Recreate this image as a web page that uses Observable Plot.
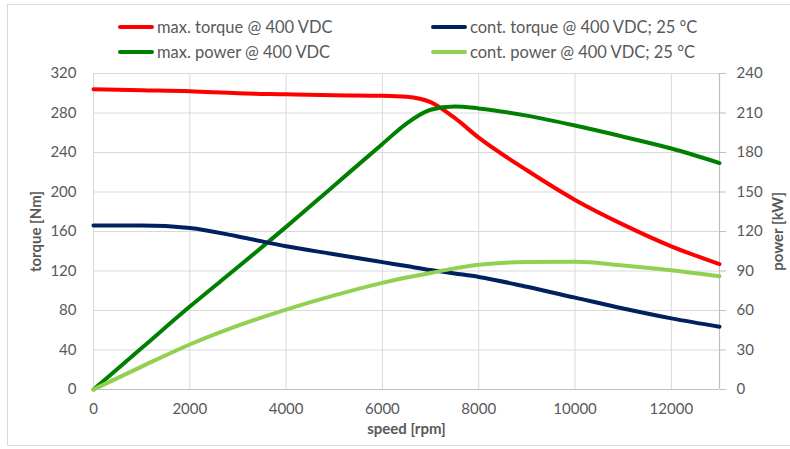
<!DOCTYPE html>
<html>
<head>
<meta charset="utf-8">
<script src="https://cdn.jsdelivr.net/npm/d3@7"></script>
<script src="https://cdn.jsdelivr.net/npm/@observablehq/plot@0.6"></script>
<style>
  body { margin: 0; background: #fff; }
  #wrap { position: relative; width: 790px; height: 449px; overflow: hidden; font-family: Lato, "Liberation Sans", sans-serif; }
  #frame { position: absolute; left: 7px; top: 4px; width: 800px; height: 442px; border: 1px solid #d9d9d9; box-sizing: border-box; }
  #chart { position: absolute; left: 0; top: 0; }
  .leg { position: absolute; display: flex; align-items: center; font-size: 16.5px; color: #595959; white-space: nowrap; }
  .leg .sw { width: 36px; height: 4px; margin-right: 3px; border-radius: 2px; }
  svg [aria-label="y-axis label"] text, svg [aria-label="x-axis label"] text { font-weight: bold; }
</style>
</head>
<body>
<div id="wrap">
  <div id="frame"></div>
  <div id="chart"></div>
  <div id="legend"></div>
</div>
<script>
// speed [rpm]
const speed = [0, 1000, 2000, 3000, 4000, 5000, 6000, 6500, 7000, 7500, 8000, 9000, 10000, 11000, 12000, 13000];
// torque [Nm]
const maxTorque  = [304, 303, 302, 300, 299, 298, 297.5, 296.5, 291, 275, 255, 222, 192, 167, 145, 127];
const contTorque = [166, 166, 163.5, 155, 145, 137, 129, 125, 121, 117.5, 114, 104, 93, 82, 72, 63.5];
// power [kW]
const maxPower  = [0, 31.5, 63, 93, 123.5, 155, 186.5, 202, 212.5, 215, 213.5, 208, 200.5, 192, 183, 172];
const contPower = [0, 17.4, 34.2, 48.5, 60.7, 71.5, 81, 85, 88.5, 92, 94.8, 96.8, 97, 94.2, 90.5, 86];

const seriesNames = ["max. torque @ 400 VDC", "max. power @ 400 VDC", "cont. torque @ 400 VDC; 25 °C", "cont. power @ 400 VDC; 25 °C"];
const seriesColors = ["#ff0000", "#008000", "#002060", "#92d050"];

const xTicks = [0, 2000, 4000, 6000, 8000, 10000, 12000];
const torqueTicks = [0, 40, 80, 120, 160, 200, 240, 280, 320];
const torqueMax = 320, powerMax = 240;
const k = torqueMax / powerMax;

function rows(vals, name, isPower) {
  return speed.map((s, i) => ({speed: s, v: isPower ? vals[i] * k : vals[i], name}));
}
const data = [
  ...rows(maxTorque, seriesNames[0], false),
  ...rows(maxPower, seriesNames[1], true),
  ...rows(contTorque, seriesNames[2], false),
  ...rows(contPower, seriesNames[3], true)
];

const grey = "#595959";
const plot = Plot.plot({
  width: 790,
  height: 449,
  marginLeft: 93,
  marginRight: 71,
  marginTop: 73,
  marginBottom: 60,
  style: {fontFamily: "Lato, 'Liberation Sans', sans-serif", fontSize: "15px", color: grey, background: "transparent"},
  x: {domain: [0, 13000]},
  y: {domain: [0, torqueMax]},
  color: {domain: seriesNames, range: seriesColors},
  marks: [
    Plot.gridY(torqueTicks, {stroke: "#d9d9d9", strokeOpacity: 1}),
    Plot.gridX(xTicks, {stroke: "#d9d9d9", strokeOpacity: 1}),
    Plot.ruleY([0], {stroke: "#bfbfbf", strokeWidth: 1.2}),
    Plot.ruleX([13000], {stroke: "#bfbfbf", strokeWidth: 1.2}),
    Plot.axisY(torqueTicks, {anchor: "left", tickSize: 0, tickPadding: 17, label: "torque [Nm]", labelAnchor: "center", labelArrow: "none", labelOffset: 63, fill: grey}),
    Plot.axisY(torqueTicks, {anchor: "right", tickSize: 6, tickPadding: 11, stroke: "#bfbfbf", tickFormat: d => String(d / k), label: "power [kW]", labelAnchor: "center", labelArrow: "none", labelOffset: 63, fill: grey}),
    Plot.axisX(xTicks, {anchor: "bottom", tickSize: 0, tickPadding: 14, tickFormat: d => String(d), label: "speed [rpm]", labelAnchor: "center", labelArrow: "none", labelOffset: 44, fill: grey}),
    Plot.line(data, {x: "speed", y: "v", z: "name", stroke: "name", strokeWidth: 4, curve: "monotone-x"})
  ]
});
document.getElementById("chart").appendChild(plot);

// legend
const legendPos = [[118, 17], [118, 42], [431, 17], [431, 42]];
const leg = document.getElementById("legend");
seriesNames.forEach((n, i) => {
  const d = document.createElement("div");
  d.className = "leg";
  d.style.left = legendPos[i][0] + "px";
  d.style.top = legendPos[i][1] + "px";
  d.innerHTML = `<span class="sw" style="background:${seriesColors[i]}"></span><span>${n}</span>`;
  leg.appendChild(d);
});
</script>
</body>
</html>
